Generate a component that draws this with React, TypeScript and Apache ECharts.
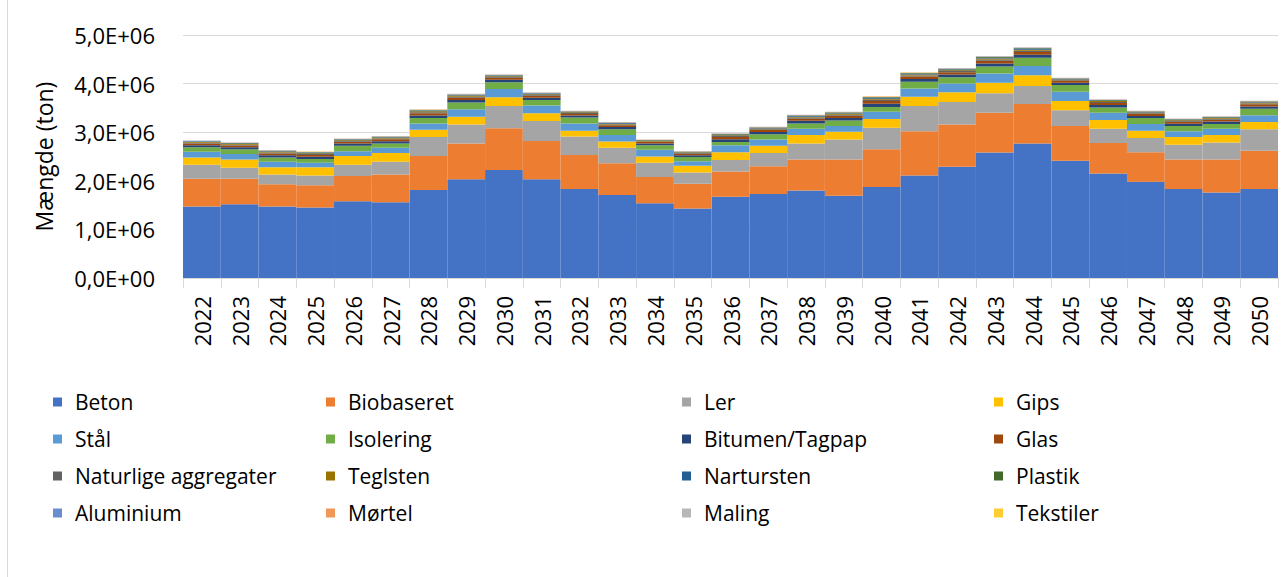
import React, { useEffect, useRef } from "react";
import * as echarts from "echarts";

const years = ["2022","2023","2024","2025","2026","2027","2028","2029","2030","2031","2032","2033","2034","2035","2036","2037","2038","2039","2040","2041","2042","2043","2044","2045","2046","2047","2048","2049","2050"];

const beton = [1.47e6,1.52e6,1.47e6,1.45e6,1.58e6,1.56e6,1.81e6,2.03e6,2.22e6,2.03e6,1.83e6,1.71e6,1.54e6,1.43e6,1.67e6,1.73e6,1.80e6,1.69e6,1.87e6,2.11e6,2.29e6,2.58e6,2.77e6,2.41e6,2.15e6,1.98e6,1.83e6,1.76e6,1.83e6];
const biobaseret = [0.57e6,0.52e6,0.46e6,0.46e6,0.52e6,0.57e6,0.70e6,0.74e6,0.86e6,0.79e6,0.70e6,0.65e6,0.54e6,0.51e6,0.52e6,0.57e6,0.64e6,0.75e6,0.78e6,0.91e6,0.87e6,0.82e6,0.81e6,0.72e6,0.63e6,0.61e6,0.61e6,0.68e6,0.79e6];
const ler = [0.29e6,0.23e6,0.20e6,0.20e6,0.23e6,0.26e6,0.39e6,0.39e6,0.46e6,0.41e6,0.38e6,0.32e6,0.29e6,0.23e6,0.24e6,0.27e6,0.33e6,0.41e6,0.44e6,0.52e6,0.46e6,0.40e6,0.37e6,0.32e6,0.29e6,0.29e6,0.30e6,0.35e6,0.44e6];
const gips = [0.15e6,0.17e6,0.15e6,0.17e6,0.18e6,0.18e6,0.15e6,0.16e6,0.18e6,0.16e6,0.12e6,0.13e6,0.13e6,0.14e6,0.16e6,0.15e6,0.17e6,0.16e6,0.18e6,0.19e6,0.20e6,0.22e6,0.22e6,0.19e6,0.18e6,0.15e6,0.16e6,0.15e6,0.15e6];
const staal = [0.12e6,0.11e6,0.11e6,0.09e6,0.10e6,0.11e6,0.13e6,0.15e6,0.17e6,0.16e6,0.15e6,0.13e6,0.14e6,0.09e6,0.14e6,0.13e6,0.13e6,0.12e6,0.15e6,0.17e6,0.18e6,0.19e6,0.19e6,0.19e6,0.15e6,0.14e6,0.12e6,0.13e6,0.14e6];
const isolering = [0.09e6,0.10e6,0.09e6,0.08e6,0.11e6,0.09e6,0.11e6,0.14e6,0.14e6,0.11e6,0.12e6,0.12e6,0.09e6,0.09e6,0.07e6,0.11e6,0.11e6,0.11e6,0.10e6,0.14e6,0.13e6,0.14e6,0.17e6,0.14e6,0.11e6,0.12e6,0.11e6,0.10e6,0.13e6];
const bitumen = [42e3,42e3,45e3,45e3,45e3,45e3,54e3,54e3,48e3,48e3,42e3,45e3,36e3,36e3,54e3,45e3,54e3,54e3,66e3,57e3,57e3,66e3,66e3,45e3,51e3,45e3,45e3,48e3,51e3];
const glas = [35e3,35e3,38e3,38e3,38e3,38e3,45e3,45e3,40e3,40e3,35e3,38e3,30e3,30e3,45e3,38e3,45e3,45e3,55e3,48e3,48e3,55e3,55e3,38e3,42e3,38e3,38e3,40e3,42e3];
const naturlige = [17e3,17e3,18e3,18e3,18e3,18e3,22e3,22e3,19e3,19e3,17e3,18e3,14e3,14e3,22e3,18e3,22e3,22e3,26e3,23e3,23e3,26e3,26e3,18e3,20e3,18e3,18e3,19e3,20e3];
const teglsten = [14e3,14e3,15e3,15e3,15e3,15e3,18e3,18e3,16e3,16e3,14e3,15e3,12e3,12e3,18e3,15e3,18e3,18e3,22e3,19e3,19e3,22e3,22e3,15e3,17e3,15e3,15e3,16e3,17e3];
const nartursten = [10e3,10e3,11e3,11e3,11e3,11e3,13e3,13e3,11e3,11e3,10e3,11e3,8e3,8e3,13e3,11e3,13e3,13e3,15e3,13e3,13e3,15e3,15e3,11e3,12e3,11e3,11e3,11e3,12e3];
const plastik = [8e3,8e3,9e3,9e3,9e3,9e3,11e3,11e3,10e3,10e3,8e3,9e3,7e3,7e3,11e3,9e3,11e3,11e3,13e3,11e3,11e3,13e3,13e3,9e3,10e3,9e3,9e3,10e3,10e3];
const aluminium = [6e3,6e3,6e3,6e3,6e3,6e3,7e3,7e3,6e3,6e3,6e3,6e3,5e3,5e3,7e3,6e3,7e3,7e3,9e3,8e3,8e3,9e3,9e3,6e3,7e3,6e3,6e3,6e3,7e3];
const moertel = [4e3,4e3,5e3,5e3,5e3,5e3,5e3,5e3,5e3,5e3,4e3,5e3,4e3,4e3,5e3,5e3,5e3,5e3,7e3,6e3,6e3,7e3,7e3,5e3,5e3,5e3,5e3,5e3,5e3];
const maling = [3e3,3e3,3e3,3e3,3e3,3e3,4e3,4e3,3e3,3e3,3e3,3e3,2e3,2e3,4e3,3e3,4e3,4e3,4e3,4e3,4e3,4e3,4e3,3e3,3e3,3e3,3e3,3e3,3e3];
const tekstiler = [1e3,1e3,1e3,1e3,1e3,1e3,1e3,1e3,1e3,1e3,1e3,1e3,1e3,1e3,1e3,1e3,1e3,1e3,2e3,2e3,2e3,2e3,2e3,1e3,1e3,1e3,1e3,1e3,1e3];

const seriesNames = ["Beton","Biobaseret","Ler","Gips","Stål","Isolering","Bitumen/Tagpap","Glas","Naturlige aggregater","Teglsten","Nartursten","Plastik","Aluminium","Mørtel","Maling","Tekstiler"];
const seriesData = [beton,biobaseret,ler,gips,staal,isolering,bitumen,glas,naturlige,teglsten,nartursten,plastik,aluminium,moertel,maling,tekstiler];
const colors = ["#4472C4","#ED7D31","#A5A5A5","#FFC000","#5B9BD5","#70AD47","#264478","#9E480E","#636363","#997300","#255E91","#43682B","#698ED0","#F1975A","#B7B7B7","#FFCD33"];

const yMin = 0;
const yMax = 5e6;
const yStep = 1e6;

function sci(v: number): string {
  if (v === 0) return "0,0E+00";
  const e = Math.floor(Math.log10(Math.abs(v)));
  const m = v / Math.pow(10, e);
  const es = (e < 10 ? "0" : "") + e;
  return m.toFixed(1).replace(".", ",") + "E+" + es;
}

const FONT = "'Open Sans', 'Noto Sans', sans-serif";

export default function App() {
  const ref = useRef<HTMLDivElement>(null);
  useEffect(() => {
    if (!ref.current) return;
    const chart = echarts.init(ref.current, null, { renderer: "svg" });
    const colLefts = [48, 321, 677, 989];
    const legends = colLefts.map((left, c) => ({
      orient: "vertical",
      left,
      top: 385,
      itemWidth: 9,
      itemHeight: 9,
      itemGap: 13,
      icon: "rect",
      selectedMode: false,
      data: [0, 1, 2, 3].map((r) => seriesNames[r * 4 + c]),
      textStyle: {
        fontFamily: FONT,
        fontSize: 21,
        color: "#000",
        lineHeight: 24,
        padding: [0, 0, 0, 8],
      },
    }));
    chart.setOption({
      animation: false,
      color: colors,
      textStyle: { fontFamily: FONT },
      grid: { left: 183, right: 5, top: 35, bottom: 299, containLabel: false },
      legend: legends,
      xAxis: {
        type: "category",
        data: years,
        boundaryGap: true,
        axisLine: { show: true, lineStyle: { color: "#d9d9d9", width: 1 } },
        axisTick: { show: true, alignWithLabel: false, length: 10, lineStyle: { color: "#d9d9d9" } },
        axisLabel: {
          rotate: 90,
          interval: 0,
          margin: 18,
          fontSize: 22,
          color: "#000",
          fontFamily: FONT,
        },
      },
      yAxis: {
        type: "value",
        min: yMin,
        max: yMax,
        interval: yStep,
        name: "Mængde (ton)",
        nameLocation: "middle",
        nameGap: 128,
        nameTextStyle: { fontSize: 23, color: "#000", fontFamily: FONT },
        axisLine: { show: false },
        axisTick: { show: false },
        splitLine: { lineStyle: { color: "#d9d9d9", width: 1 } },
        axisLabel: {
          formatter: (v: number) => sci(v),
          fontSize: 22,
          color: "#000",
          margin: 28,
          fontFamily: FONT,
        },
      },
      series: seriesNames.map((name, i) => ({
        name,
        type: "bar",
        stack: "total",
        barWidth: "100%",
        barCategoryGap: "0%",
        data: seriesData[i],
        itemStyle: { color: colors[i] },
      })),
      graphic: [
        {
          type: "rect",
          shape: { x: 7.5, y: -2, width: 1400, height: 1000 },
          style: { fill: "none", stroke: "#d9d9d9", lineWidth: 1 },
          silent: true,
        },
      ],
    });
    return () => chart.dispose();
  }, []);
  return (
    <div
      ref={ref}
      style={{ position: "absolute", left: 0, top: 0, width: 1283, height: 577, background: "#fff" }}
    />
  );
}
